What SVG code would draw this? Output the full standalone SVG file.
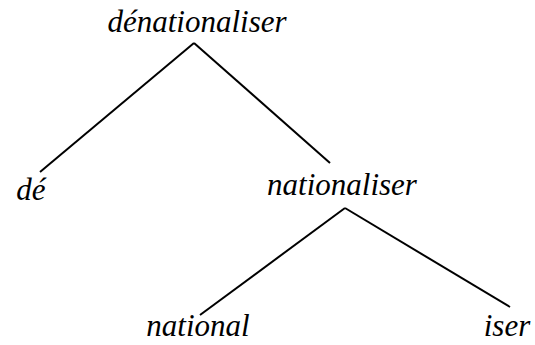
<svg xmlns="http://www.w3.org/2000/svg" width="535" height="345" viewBox="0 0 535 345">
<style>
.t{font-family:"Liberation Serif","Times New Roman",serif;font-style:italic;font-size:31px;fill:#000;text-anchor:middle}
.e{stroke:#000;stroke-width:2;fill:none}
</style>
<rect width="535" height="345" fill="#fff"/>
<g id="edges">
<line class="e" x1="194" y1="43" x2="40" y2="172"/>
<line class="e" x1="194" y1="43" x2="330" y2="163"/>
<line class="e" x1="345" y1="208" x2="200" y2="315"/>
<line class="e" x1="345" y1="208" x2="510" y2="307"/>
</g>
<g id="n-denationaliser"><text class="t" x="197" y="32">dénationaliser</text></g>
<g id="n-de"><text class="t" x="31" y="200">dé</text></g>
<g id="n-nationaliser"><text class="t" x="342" y="195">nationaliser</text></g>
<g id="n-national"><text class="t" x="198" y="336">national</text></g>
<g id="n-iser"><text class="t" x="507" y="336">iser</text></g>
</svg>
